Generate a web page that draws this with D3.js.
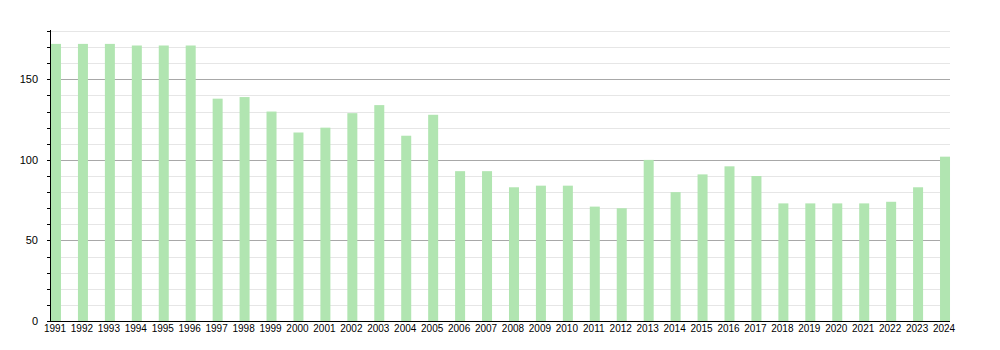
<!DOCTYPE html>
<html>
<head>
<meta charset="utf-8">
<script src="https://cdn.jsdelivr.net/npm/d3@7"></script>
<style>
  body { margin: 0; background: #fff; }
  text { font-family: "Liberation Sans", Arial, sans-serif; fill: #000; }
</style>
</head>
<body>
<div id="chart"></div>
<script>
var years = ['1991', '1992', '1993', '1994', '1995', '1996', '1997', '1998', '1999', '2000',
  '2001', '2002', '2003', '2004', '2005', '2006', '2007', '2008', '2009', '2010',
  '2011', '2012', '2013', '2014', '2015', '2016', '2017', '2018', '2019', '2020',
  '2021', '2022', '2023', '2024'];
var values = [172, 172, 172, 171, 171, 171, 138, 139, 130, 117,
  120, 129, 134, 115, 128, 93, 93, 83, 84, 84,
  71, 70, 100, 80, 91, 96, 90, 73, 73, 73,
  73, 74, 83, 102];
var majorTicks = [0, 50, 100, 150];
var minorTicks = d3.range(10, 190, 10).filter(function(v) { return v % 50 !== 0; });

var width = 1000, height = 350;
var plotLeft = 50, plotRight = 950, plotBottom = 321, plotTop = 31;

var svg = d3.select('#chart').append('svg')
    .attr('width', width)
    .attr('height', height);

var x = d3.scaleBand()
    .domain(years)
    .range([plotLeft + 1, plotLeft + 1 + 34 * 26.94]);

var y = d3.scaleLinear()
    .domain([0, 180])
    .range([plotBottom, plotTop]);

function py(d) { return Math.round(y(d)) + 0.5; }

// grid
svg.append('g').selectAll('line')
    .data(minorTicks)
    .enter().append('line')
    .attr('x1', plotLeft).attr('x2', plotRight)
    .attr('y1', py).attr('y2', py)
    .style('stroke', '#e6e6e6');

svg.append('g').selectAll('line')
    .data(majorTicks.slice(1))
    .enter().append('line')
    .attr('x1', plotLeft).attr('x2', plotRight)
    .attr('y1', py).attr('y2', py)
    .style('stroke', '#a8a8a8');

// bars
svg.append('g').selectAll('rect')
    .data(values)
    .enter().append('rect')
    .attr('x', function(d, i) { return x(years[i]); })
    .attr('width', 10)
    .attr('y', function(d) { return y(d); })
    .attr('height', function(d) { return plotBottom - y(d); })
    .style('fill', '#b1e5b1');

// y axis
var yAxis = svg.append('g');
yAxis.append('line')
    .attr('x1', plotLeft + 0.5).attr('x2', plotLeft + 0.5)
    .attr('y1', plotTop - 1).attr('y2', plotBottom)
    .style('stroke', '#000');
yAxis.selectAll('.tick')
    .data(minorTicks.concat(majorTicks))
    .enter().append('line')
    .attr('class', 'tick')
    .attr('x1', plotLeft - 3).attr('x2', plotLeft)
    .attr('y1', py).attr('y2', py)
    .style('stroke', '#000');
yAxis.selectAll('text')
    .data(majorTicks)
    .enter().append('text')
    .attr('x', 38)
    .attr('y', function(d) { return y(d); })
    .attr('dy', '0.35em')
    .attr('text-anchor', 'end')
    .style('font-size', '11px')
    .text(function(d) { return d; });

// x axis
svg.append('line')
    .attr('x1', plotLeft).attr('x2', plotRight)
    .attr('y1', plotBottom + 0.5).attr('y2', plotBottom + 0.5)
    .style('stroke', '#000');
svg.append('g').selectAll('text')
    .data(years)
    .enter().append('text')
    .attr('x', function(d) { return x(d) + 4; })
    .attr('y', 332)
    .attr('text-anchor', 'middle')
    .style('font-size', '10px')
    .text(function(d) { return d; });
</script>
</body>
</html>
